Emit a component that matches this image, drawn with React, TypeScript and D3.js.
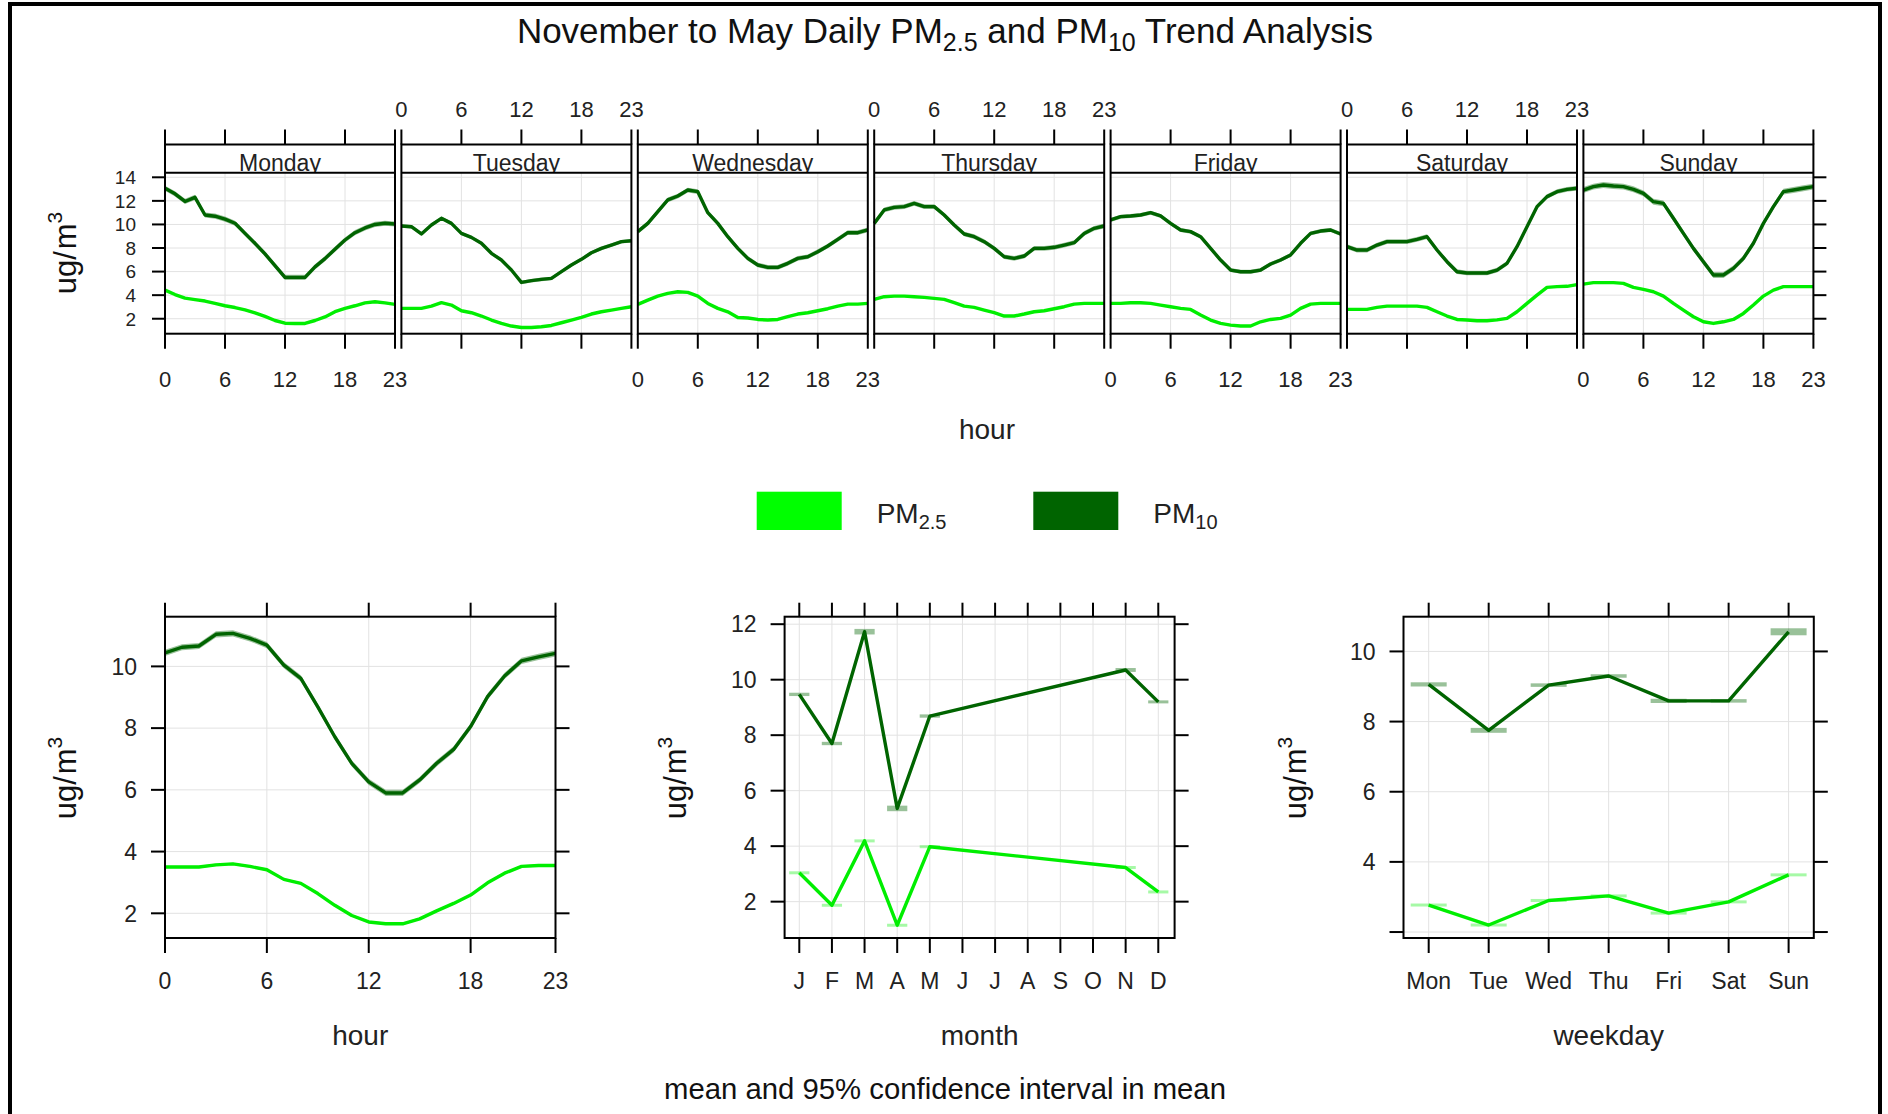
import React from "react";
import * as d3 from "d3";

const FONT = "'Liberation Sans', Arial, Helvetica, sans-serif";

// ---------- data ----------
const dayNames = ["Monday", "Tuesday", "Wednesday", "Thursday", "Friday", "Saturday", "Sunday"];
const hours = [0, 1, 2, 3, 4, 5, 6, 7, 8, 9, 10, 11, 12, 13, 14, 15, 16, 17, 18, 19, 20, 21, 22, 23];
const hourTicks = [0, 6, 12, 18, 23];
const topYTicks = [2, 4, 6, 8, 10, 12, 14];

const pm10Monday = [13.07, 12.6, 11.95, 12.3, 10.8, 10.7, 10.45, 10.1, 9.24, 8.4, 7.5, 6.5, 5.51, 5.51, 5.51, 6.4, 7.1, 7.9, 8.68, 9.3, 9.7, 10.0, 10.1, 10.04];
const pm10Tuesday = [9.87, 9.81, 9.19, 9.95, 10.52, 10.09, 9.24, 8.9, 8.4, 7.55, 6.98, 6.13, 5.08, 5.23, 5.34, 5.42, 5.99, 6.56, 7.04, 7.6, 7.97, 8.25, 8.54, 8.62];
const pm10Wednesday = [9.39, 10.09, 11.08, 12.08, 12.41, 12.92, 12.78, 11.0, 10.09, 8.96, 7.97, 7.12, 6.56, 6.36, 6.36, 6.7, 7.12, 7.26, 7.69, 8.17, 8.74, 9.3, 9.3, 9.53];
const pm10Thursday = [10.09, 11.23, 11.45, 11.51, 11.79, 11.51, 11.51, 10.8, 9.95, 9.19, 8.96, 8.54, 7.97, 7.26, 7.12, 7.32, 7.97, 7.97, 8.06, 8.25, 8.45, 9.24, 9.67, 9.87];
const pm10Friday = [10.38, 10.66, 10.72, 10.8, 11.0, 10.72, 10.09, 9.53, 9.39, 8.96, 7.97, 6.98, 6.13, 5.99, 5.99, 6.13, 6.64, 6.98, 7.41, 8.4, 9.24, 9.44, 9.53, 9.19];
const pm10Saturday = [8.11, 7.83, 7.83, 8.25, 8.54, 8.54, 8.54, 8.74, 8.96, 7.83, 6.84, 5.99, 5.88, 5.88, 5.88, 6.13, 6.7, 8.11, 9.81, 11.51, 12.36, 12.78, 12.98, 13.07];
const pm10Sunday = [12.92, 13.21, 13.35, 13.26, 13.21, 12.98, 12.64, 11.93, 11.79, 10.52, 9.24, 7.97, 6.84, 5.71, 5.71, 6.27, 7.12, 8.4, 10.09, 11.51, 12.78, 12.92, 13.07, 13.21];

const pm25Monday = [4.43, 4.05, 3.75, 3.62, 3.5, 3.3, 3.1, 2.95, 2.75, 2.5, 2.2, 1.85, 1.62, 1.6, 1.6, 1.85, 2.15, 2.6, 2.88, 3.1, 3.35, 3.44, 3.35, 3.22];
const pm25Tuesday = [2.88, 2.88, 2.88, 3.07, 3.36, 3.16, 2.68, 2.51, 2.23, 1.89, 1.6, 1.38, 1.26, 1.26, 1.32, 1.43, 1.66, 1.89, 2.11, 2.4, 2.59, 2.73, 2.88, 3.02];
const pm25Wednesday = [3.22, 3.58, 3.92, 4.15, 4.29, 4.24, 3.92, 3.3, 2.88, 2.59, 2.11, 2.06, 1.94, 1.89, 1.94, 2.17, 2.4, 2.51, 2.68, 2.85, 3.07, 3.24, 3.24, 3.3];
const pm25Thursday = [3.64, 3.87, 3.92, 3.92, 3.87, 3.81, 3.73, 3.64, 3.36, 3.07, 2.96, 2.73, 2.51, 2.23, 2.23, 2.4, 2.59, 2.68, 2.85, 3.02, 3.24, 3.3, 3.3, 3.3];
const pm25Friday = [3.3, 3.3, 3.36, 3.36, 3.3, 3.16, 3.02, 2.88, 2.79, 2.31, 1.89, 1.6, 1.46, 1.38, 1.38, 1.74, 1.94, 2.03, 2.31, 2.88, 3.24, 3.3, 3.3, 3.3];
const pm25Saturday = [2.79, 2.79, 2.79, 2.96, 3.07, 3.07, 3.07, 3.07, 2.96, 2.59, 2.23, 1.94, 1.89, 1.83, 1.83, 1.9, 2.03, 2.59, 3.3, 4.0, 4.66, 4.72, 4.75, 4.9];
const pm25Sunday = [4.94, 5.06, 5.06, 5.06, 5.0, 4.66, 4.49, 4.29, 3.92, 3.3, 2.73, 2.17, 1.74, 1.6, 1.74, 1.94, 2.45, 3.16, 3.92, 4.43, 4.72, 4.72, 4.72, 4.72];

// 95% CI half-widths (per day panel)
const pm10DayCI = [0.22, 0.15, 0.2, 0.2, 0.17, 0.2, 0.25];
const pm25DayCI = [0.07, 0.05, 0.06, 0.06, 0.05, 0.07, 0.07];

const pm10Hour = [10.44, 10.62, 10.66, 11.04, 11.07, 10.91, 10.69, 10.04, 9.61, 8.69, 7.72, 6.86, 6.26, 5.9, 5.9, 6.32, 6.86, 7.31, 8.05, 9.02, 9.69, 10.18, 10.31, 10.42];
const pm25Hour = [3.5, 3.5, 3.5, 3.57, 3.6, 3.52, 3.41, 3.1, 2.97, 2.64, 2.26, 1.93, 1.72, 1.66, 1.66, 1.82, 2.08, 2.32, 2.59, 2.99, 3.3, 3.52, 3.55, 3.55];
const pm10HourCI = 0.1;
const pm25HourCI = 0.04;

const monthLabels = ["J", "F", "M", "A", "M", "J", "J", "A", "S", "O", "N", "D"];
const pm10Month = [9.47, 7.7, 11.73, 5.36, 8.69, null, null, null, null, null, 10.35, 9.2];
const pm25Month = [3.04, 1.87, 4.19, 1.15, 3.98, null, null, null, null, null, 3.23, 2.35];
const pm10MonthCI = [0.06, 0.06, 0.1, 0.1, 0.06, null, null, null, null, null, 0.07, 0.04];
const pm25MonthCI = [0.03, 0.03, 0.04, 0.03, 0.03, null, null, null, null, null, 0.03, 0.03];

const weekdayLabels = ["Mon", "Tue", "Wed", "Thu", "Fri", "Sat", "Sun"];
const pm10Week = [9.06, 7.75, 9.04, 9.3, 8.59, 8.59, 10.56];
const pm25Week = [2.77, 2.2, 2.9, 3.03, 2.54, 2.86, 3.63];
const pm10WeekCI = [0.06, 0.07, 0.05, 0.05, 0.06, 0.05, 0.1];
const pm25WeekCI = [0.03, 0.03, 0.03, 0.03, 0.03, 0.03, 0.03];

const pm10Days = [pm10Monday, pm10Tuesday, pm10Wednesday, pm10Thursday, pm10Friday, pm10Saturday, pm10Sunday];
const pm25Days = [pm25Monday, pm25Tuesday, pm25Wednesday, pm25Thursday, pm25Friday, pm25Saturday, pm25Sunday];

// ---------- style ----------
const C25 = "#00EE00";
const C25_LEG = "#00FF00";
const C10 = "#006400";
const GRID = "#e2e2e2";
const LW = 3.4;

// ---------- layout ----------
const TOP = { x0: 165, step: 236.4, w: 230, stripTop: 144.5, panelTop: 172.7, panelBottom: 333.7 };
const BOT = { top: 616.7, bottom: 938 };

function YLabel({ x, y }: { x: number; y: number }) {
  return (
    <text transform={`translate(${x},${y}) rotate(-90)`} textAnchor="middle" fontSize={31} fontFamily={FONT} fill="#111">
      ug/
      <tspan dx={2}>m</tspan>
      <tspan dy={-14} fontSize={21}>3</tspan>
    </text>
  );
}

function TopPanels() {
  const y = d3.scaleLinear().domain([0.73, 14.39]).range([TOP.panelBottom, TOP.panelTop]);
  return (
    <g>
      {dayNames.map((day, i) => {
        const x0 = TOP.x0 + i * TOP.step;
        const x = d3.scaleLinear().domain([0, 23]).range([x0, x0 + TOP.w]);
        const band = (vals: number[], ci: number) =>
          d3.area<number>().x((_, k) => x(hours[k])).y0((v) => y(v - ci)).y1((v) => y(v + ci))(vals) || "";
        const line = (vals: number[]) => d3.line<number>().x((_, k) => x(hours[k])).y((v) => y(v))(vals) || "";
        const clipId = `strip-${i}`;
        return (
          <g key={day}>
            {/* grid */}
            {topYTicks.map((t) => (
              <line key={`gy${t}`} x1={x0} x2={x0 + TOP.w} y1={y(t)} y2={y(t)} stroke={GRID} strokeWidth={1} />
            ))}
            {hourTicks.slice(1, 4).map((t) => (
              <line key={`gx${t}`} x1={x(t)} x2={x(t)} y1={TOP.panelTop} y2={TOP.panelBottom} stroke={GRID} strokeWidth={1} />
            ))}
            {/* series */}
            <path d={band(pm25Days[i], pm25DayCI[i])} fill={C25} opacity={0.35} />
            <path d={band(pm10Days[i], pm10DayCI[i])} fill={C10} opacity={0.4} />
            <path d={line(pm25Days[i])} fill="none" stroke={C25} strokeWidth={LW} strokeLinejoin="round" />
            <path d={line(pm10Days[i])} fill="none" stroke={C10} strokeWidth={LW} strokeLinejoin="round" />
            {/* strip */}
            <clipPath id={clipId}>
              <rect x={x0} y={TOP.stripTop} width={TOP.w} height={TOP.panelTop - TOP.stripTop} />
            </clipPath>
            <rect x={x0} y={TOP.stripTop} width={TOP.w} height={TOP.panelTop - TOP.stripTop} fill="#fff" />
            <text clipPath={`url(#${clipId})`} x={x0 + TOP.w / 2} y={TOP.panelTop - 2} textAnchor="middle" fontSize={23} fontFamily={FONT} fill="#222">
              {day}
            </text>
            {/* borders */}
            <rect x={x0} y={TOP.stripTop} width={TOP.w} height={TOP.panelBottom - TOP.stripTop} fill="none" stroke="#000" strokeWidth={2} />
            <line x1={x0} x2={x0 + TOP.w} y1={TOP.panelTop} y2={TOP.panelTop} stroke="#000" strokeWidth={2} />
            {/* ticks */}
            {hourTicks.map((t) => (
              <g key={`t${t}`}>
                <line x1={x(t)} x2={x(t)} y1={TOP.stripTop} y2={TOP.stripTop - 15} stroke="#000" strokeWidth={2} />
                <line x1={x(t)} x2={x(t)} y1={TOP.panelBottom} y2={TOP.panelBottom + 15} stroke="#000" strokeWidth={2} />
                {i % 2 === 1 ? (
                  <text x={x(t)} y={116.5} textAnchor="middle" fontSize={22} fontFamily={FONT} fill="#222">{t}</text>
                ) : (
                  <text x={x(t)} y={386.5} textAnchor="middle" fontSize={22} fontFamily={FONT} fill="#222">{t}</text>
                )}
              </g>
            ))}
            {i === 0 &&
              topYTicks.map((t) => (
                <g key={`yl${t}`}>
                  <line x1={x0} x2={x0 - 13} y1={y(t)} y2={y(t)} stroke="#000" strokeWidth={2} />
                  <text x={x0 - 29} y={y(t)} dy="0.36em" textAnchor="end" fontSize={19} fontFamily={FONT} fill="#222">{t}</text>
                </g>
              ))}
            {i === 6 &&
              topYTicks.map((t) => (
                <line key={`yr${t}`} x1={x0 + TOP.w} x2={x0 + TOP.w + 13} y1={y(t)} y2={y(t)} stroke="#000" strokeWidth={2} />
              ))}
          </g>
        );
      })}
      <YLabel x={76} y={253} />
      <text x={987} y={439} textAnchor="middle" fontSize={28} fontFamily={FONT} fill="#222">hour</text>
    </g>
  );
}

type PanelProps = {
  x0: number;
  x1: number;
  xScale: d3.ScaleLinear<number, number>;
  yScale: d3.ScaleLinear<number, number>;
  xTicks: number[];
  xTickLabels: string[];
  yTicks: number[];
  yLabelTicks: number[];
  gridX: number[];
  xTitle: string;
  labelX: number;
  children: React.ReactNode;
};

function BottomPanel(p: PanelProps) {
  const { x0, x1, xScale, yScale } = p;
  return (
    <g>
      {p.yTicks.map((t) => (
        <line key={`gy${t}`} x1={x0} x2={x1} y1={yScale(t)} y2={yScale(t)} stroke={GRID} strokeWidth={1} />
      ))}
      {p.gridX.map((t) => (
        <line key={`gx${t}`} x1={xScale(t)} x2={xScale(t)} y1={BOT.top} y2={BOT.bottom} stroke={GRID} strokeWidth={1} />
      ))}
      {p.children}
      <rect x={x0} y={BOT.top} width={x1 - x0} height={BOT.bottom - BOT.top} fill="none" stroke="#000" strokeWidth={2} />
      {p.xTicks.map((t, k) => (
        <g key={`xt${k}`}>
          <line x1={xScale(t)} x2={xScale(t)} y1={BOT.top} y2={BOT.top - 14} stroke="#000" strokeWidth={2} />
          <line x1={xScale(t)} x2={xScale(t)} y1={BOT.bottom} y2={BOT.bottom + 15} stroke="#000" strokeWidth={2} />
          <text x={xScale(t)} y={989} textAnchor="middle" fontSize={23} fontFamily={FONT} fill="#222">{p.xTickLabels[k]}</text>
        </g>
      ))}
      {p.yTicks.map((t) => (
        <g key={`yt${t}`}>
          <line x1={x0} x2={x0 - 14} y1={yScale(t)} y2={yScale(t)} stroke="#000" strokeWidth={2} />
          <line x1={x1} x2={x1 + 14} y1={yScale(t)} y2={yScale(t)} stroke="#000" strokeWidth={2} />
          {p.yLabelTicks.includes(t) && (
            <text x={x0 - 28} y={yScale(t)} dy="0.36em" textAnchor="end" fontSize={23} fontFamily={FONT} fill="#222">{t}</text>
          )}
        </g>
      ))}
      <text x={(x0 + x1) / 2} y={1045} textAnchor="middle" fontSize={28} fontFamily={FONT} fill="#222">{p.xTitle}</text>
      <YLabel x={p.labelX} y={778} />
    </g>
  );
}

function HourPanel() {
  const x = d3.scaleLinear().domain([0, 23]).range([165, 555.5]);
  const y = d3.scaleLinear().domain([1.2, 11.61]).range([BOT.bottom, BOT.top]);
  const band = (vals: number[], ci: number) =>
    d3.area<number>().x((_, k) => x(hours[k])).y0((v) => y(v - ci)).y1((v) => y(v + ci))(vals) || "";
  const line = (vals: number[]) => d3.line<number>().x((_, k) => x(hours[k])).y((v) => y(v))(vals) || "";
  return (
    <BottomPanel x0={165} x1={555.5} xScale={x} yScale={y} xTicks={hourTicks} xTickLabels={hourTicks.map(String)}
      yTicks={[2, 4, 6, 8, 10]} yLabelTicks={[2, 4, 6, 8, 10]} gridX={[6, 12, 18]} xTitle="hour" labelX={76}>
      <path d={band(pm25Hour, pm25HourCI)} fill={C25} opacity={0.35} />
      <path d={band(pm10Hour, pm10HourCI)} fill={C10} opacity={0.4} />
      <path d={line(pm25Hour)} fill="none" stroke={C25} strokeWidth={LW} strokeLinejoin="round" />
      <path d={line(pm10Hour)} fill="none" stroke={C10} strokeWidth={LW} strokeLinejoin="round" />
    </BottomPanel>
  );
}

function CatSeries({ idx, vals, ci, x, y, color, half }: {
  idx: number[]; vals: (number | null)[]; ci: (number | null)[];
  x: d3.ScaleLinear<number, number>; y: d3.ScaleLinear<number, number>; color: string; half: number;
}) {
  const pts = idx.map((k, j) => ({ k, v: vals[j], c: ci[j] })).filter((d) => d.v !== null) as { k: number; v: number; c: number }[];
  const line = d3.line<{ k: number; v: number }>().x((d) => x(d.k)).y((d) => y(d.v))(pts) || "";
  return (
    <g>
      {pts.map((d) => {
        const h = Math.max(3, y(d.v - d.c) - y(d.v + d.c));
        return (
          <rect key={d.k} x={x(d.k - half)} width={x(d.k + half) - x(d.k - half)} y={y(d.v) - h / 2} height={h}
            fill={color} opacity={color === C10 ? 0.4 : 0.35} />
        );
      })}
      <path d={line} fill="none" stroke={color} strokeWidth={LW} strokeLinejoin="round" />
    </g>
  );
}

function MonthPanel() {
  const idx = monthLabels.map((_, k) => k + 1);
  const x = d3.scaleLinear().domain([0.55, 12.5]).range([784.6, 1174.6]);
  const y = d3.scaleLinear().domain([0.69, 12.27]).range([BOT.bottom, BOT.top]);
  return (
    <BottomPanel x0={784.6} x1={1174.6} xScale={x} yScale={y} xTicks={idx} xTickLabels={monthLabels}
      yTicks={[2, 4, 6, 8, 10, 12]} yLabelTicks={[2, 4, 6, 8, 10, 12]} gridX={idx} xTitle="month" labelX={686}>
      <CatSeries idx={idx} vals={pm25Month} ci={pm25MonthCI} x={x} y={y} color={C25} half={0.31} />
      <CatSeries idx={idx} vals={pm10Month} ci={pm10MonthCI} x={x} y={y} color={C10} half={0.31} />
    </BottomPanel>
  );
}

function WeekPanel() {
  const idx = weekdayLabels.map((_, k) => k + 1);
  const x = d3.scaleLinear().domain([0.58, 7.42]).range([1403.5, 1813.8]);
  const y = d3.scaleLinear().domain([1.83, 10.99]).range([BOT.bottom, BOT.top]);
  return (
    <BottomPanel x0={1403.5} x1={1813.8} xScale={x} yScale={y} xTicks={idx} xTickLabels={weekdayLabels}
      yTicks={[2, 4, 6, 8, 10]} yLabelTicks={[4, 6, 8, 10]} gridX={idx} xTitle="weekday" labelX={1306}>
      <CatSeries idx={idx} vals={pm25Week} ci={pm25WeekCI} x={x} y={y} color={C25} half={0.3} />
      <CatSeries idx={idx} vals={pm10Week} ci={pm10WeekCI} x={x} y={y} color={C10} half={0.3} />
    </BottomPanel>
  );
}

export default function App() {
  return (
    <svg width={1888} height={1114} style={{ position: "absolute", left: 0, top: 0, background: "#fff" }}>
      <rect x={0} y={0} width={1888} height={1114} fill="#fff" />
      <rect x={10} y={4} width={1870} height={1130} fill="none" stroke="#000" strokeWidth={4} />
      <text x={945} y={43} textAnchor="middle" fontSize={35} fontFamily={FONT} fill="#111">
        November to May Daily PM
        <tspan dy={8} fontSize={25}>2.5</tspan>
        <tspan dy={-8}> and PM</tspan>
        <tspan dy={8} fontSize={25}>10</tspan>
        <tspan dy={-8}> Trend Analysis</tspan>
      </text>
      <TopPanels />
      {/* legend */}
      <g fontFamily={FONT} fill="#222">
        <rect x={756.7} y={491.7} width={85} height={38.3} fill={C25_LEG} />
        <text x={876.7} y={522.7} fontSize={28}>
          PM<tspan dy={6} fontSize={20}>2.5</tspan>
        </text>
        <rect x={1033.3} y={491.7} width={85} height={38.3} fill={C10} />
        <text x={1153.3} y={522.7} fontSize={28}>
          PM<tspan dy={6} fontSize={20}>10</tspan>
        </text>
      </g>
      <HourPanel />
      <MonthPanel />
      <WeekPanel />
      <text x={945} y={1099} textAnchor="middle" fontSize={29.3} fontFamily={FONT} fill="#111">
        mean and 95% confidence interval in mean
      </text>
    </svg>
  );
}
